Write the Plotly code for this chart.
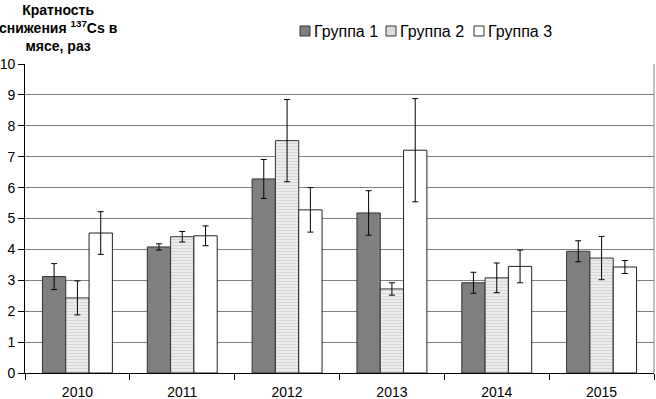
import plotly.graph_objects as go

years = ["2010", "2011", "2012", "2013", "2014", "2015"]
group_names = ["Группа 1", "Группа 2", "Группа 3"]
g1 = [3.12, 4.08, 6.28, 5.18, 2.92, 3.94]
g1_err = [0.42, 0.10, 0.63, 0.72, 0.34, 0.34]
g2 = [2.43, 4.41, 7.52, 2.72, 3.08, 3.72]
g2_err = [0.55, 0.17, 1.33, 0.20, 0.48, 0.70]
g3 = [4.53, 4.44, 5.28, 7.21, 3.45, 3.43]
g3_err = [0.69, 0.32, 0.72, 1.67, 0.53, 0.21]
y_ticks = list(range(0, 11))

FONT = "Arial, 'Liberation Sans', sans-serif"
PLOT_LEFT, PLOT_RIGHT = 25, 654
PLOT_TOP, PLOT_BOTTOM = 64, 373
PLOT_W = PLOT_RIGHT - PLOT_LEFT
PLOT_H = PLOT_BOTTOM - PLOT_TOP


def py_to_paper(py):
    return (PLOT_BOTTOM - py) / PLOT_H


def px_to_paper(px):
    return (px - PLOT_LEFT) / PLOT_W


fills = ["#7f7f7f", "#dcdcdc", "white"]
fig = go.Figure()
err_style = dict(type="data", color="black", thickness=1, width=3)

fig.add_trace(go.Bar(
    x=years, y=g1, name=group_names[0],
    marker=dict(color=fills[0], line=dict(color="#333333", width=1)),
    error_y=dict(array=g1_err, **err_style),
))
fig.add_trace(go.Bar(
    x=years, y=g2, name=group_names[1],
    marker=dict(color="#e6e6e6", line=dict(color="#333333", width=1),
                pattern=dict(shape="-", fgcolor="#bdbdbd", bgcolor="#eeeeee",
                             size=3, solidity=0.4)),
    error_y=dict(array=g2_err, **err_style),
))
fig.add_trace(go.Bar(
    x=years, y=g3, name=group_names[2],
    marker=dict(color=fills[2], line=dict(color="#222222", width=1)),
    error_y=dict(array=g3_err, **err_style),
))

# legend built from the group names: swatch + label
legend_swatch_px = [300, 386, 474]
shapes = [dict(type="line", xref="paper", yref="paper", x0=1, x1=1, y0=0, y1=1,
               line=dict(color="#808080", width=1))]
annotations = [dict(
    text="<b>Кратность<br>снижения <sup>137</sup>Cs в<br>мясе, раз</b>",
    xref="paper", yref="paper", x=px_to_paper(58), y=py_to_paper(0),
    xanchor="center", yanchor="top", showarrow=False, align="center",
    font=dict(family=FONT, size=14, color="black"),
)]
for name, fill, sx in zip(group_names, fills, legend_swatch_px):
    shapes.append(dict(type="rect", xref="paper", yref="paper",
                       x0=px_to_paper(sx), x1=px_to_paper(sx + 10),
                       y0=py_to_paper(36), y1=py_to_paper(26),
                       fillcolor=fill, line=dict(color="#333333", width=1)))
    annotations.append(dict(text=name, xref="paper", yref="paper",
                            x=px_to_paper(sx + 12), y=py_to_paper(31),
                            xanchor="left", yanchor="middle", showarrow=False,
                            font=dict(family=FONT, size=16, color="black")))

fig.update_layout(
    width=656, height=399,
    margin=dict(l=PLOT_LEFT, r=656 - PLOT_RIGHT, t=PLOT_TOP, b=399 - PLOT_BOTTOM,
                autoexpand=False),
    paper_bgcolor="white", plot_bgcolor="white",
    barmode="group", bargap=0.333, bargroupgap=0,
    font=dict(family=FONT, size=14, color="black"),
    showlegend=False,
    xaxis=dict(showline=True, linecolor="black", linewidth=1,
               ticks="outside", tickson="boundaries", ticklen=6, tickcolor="black",
               showgrid=False, tickfont=dict(size=14), ticklabelstandoff=6),
    yaxis=dict(range=[0, 10], tickvals=y_ticks, showline=True, linecolor="black",
               linewidth=1, ticks="outside", ticklen=6, tickcolor="black",
               showgrid=True, gridcolor="#808080", gridwidth=1,
               tickfont=dict(size=14), zeroline=False),
    annotations=annotations,
    shapes=shapes,
)

fig.write_html("out.html", config={"displayModeBar": False},
               post_script="document.body.style.margin='0';")
